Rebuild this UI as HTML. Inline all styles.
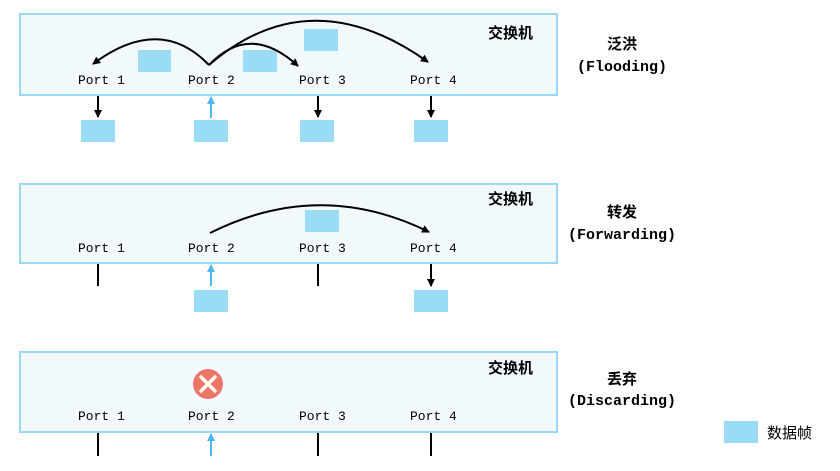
<!DOCTYPE html>
<html><head><meta charset="utf-8"><style>
body{margin:0;background:#fff;width:840px;height:466px;overflow:hidden;font-family:"Liberation Mono","Noto Sans CJK SC",monospace;}
</style></head><body>
<svg width="840" height="466" xmlns="http://www.w3.org/2000/svg">
<defs>
<marker id="a" markerWidth="8" markerHeight="8" refX="7" refY="4" orient="auto" markerUnits="userSpaceOnUse"><path d="M0,0 L8,4 L0,8 z" fill="#000"/></marker>
<marker id="b" markerWidth="8" markerHeight="8" refX="7" refY="4" orient="auto" markerUnits="userSpaceOnUse"><path d="M0,0 L8,4 L0,8 z" fill="#4db8f0"/></marker>
</defs>
<g fill="#f2f9fd" stroke="#9ad8f3" stroke-width="2">
<rect x="20" y="14" width="537" height="81"/>
<rect x="20" y="184" width="537" height="79"/>
<rect x="20" y="352" width="537" height="80"/>
</g>
<g font-family="'Liberation Sans','Noto Sans CJK SC',sans-serif" font-weight="bold" font-size="15" fill="#000">
<text x="488" y="38">交换机</text>
<text x="488" y="204">交换机</text>
<text x="488" y="373">交换机</text>
</g>
<g font-size="13" fill="#000" font-family="'Liberation Mono',monospace">
<text x="78" y="84">Port 1</text><text x="188" y="84">Port 2</text><text x="299" y="84">Port 3</text><text x="410" y="84">Port 4</text>
<text x="78" y="252">Port 1</text><text x="188" y="252">Port 2</text><text x="299" y="252">Port 3</text><text x="410" y="252">Port 4</text>
<text x="78" y="420">Port 1</text><text x="188" y="420">Port 2</text><text x="299" y="420">Port 3</text><text x="410" y="420">Port 4</text>
</g>
<g fill="#9adcf5">
<rect x="138" y="50" width="33" height="22"/><rect x="243" y="50" width="34" height="22"/><rect x="304" y="29" width="34" height="22"/>
<rect x="81" y="120" width="34" height="22"/><rect x="194" y="120" width="34" height="22"/><rect x="300" y="120" width="34" height="22"/><rect x="414" y="120" width="34" height="22"/>
<rect x="305" y="210" width="34" height="22"/>
<rect x="194" y="290" width="34" height="22"/><rect x="414" y="290" width="34" height="22"/>
<rect x="724" y="421" width="34" height="22"/>
</g>
<g fill="none" stroke="#000" stroke-width="2">
<path d="M209,65 Q160,14 93,64" marker-end="url(#a)"/>
<path d="M209,65 Q250,22 298,66" marker-end="url(#a)"/>
<path d="M209,65 Q310,-22 428,62" marker-end="url(#a)"/>
<path d="M210,233 Q320,178 429,232" marker-end="url(#a)"/>
<line x1="98" y1="96" x2="98" y2="117" marker-end="url(#a)"/>
<line x1="318" y1="96" x2="318" y2="117" marker-end="url(#a)"/>
<line x1="431" y1="96" x2="431" y2="117" marker-end="url(#a)"/>
<line x1="431" y1="264" x2="431" y2="286" marker-end="url(#a)"/>
<line x1="98" y1="264" x2="98" y2="286"/>
<line x1="318" y1="264" x2="318" y2="286"/>
<line x1="98" y1="433" x2="98" y2="456"/>
<line x1="318" y1="433" x2="318" y2="456"/>
<line x1="431" y1="433" x2="431" y2="456"/>
</g>
<g stroke="#4db8f0" stroke-width="2">
<line x1="211" y1="118" x2="211" y2="97" marker-end="url(#b)"/>
<line x1="211" y1="286" x2="211" y2="265" marker-end="url(#b)"/>
<line x1="211" y1="456" x2="211" y2="434" marker-end="url(#b)"/>
</g>
<circle cx="208" cy="384" r="15" fill="#ee7565"/>
<g stroke="#fff" stroke-width="3.5" stroke-linecap="round"><line x1="201" y1="377" x2="215" y2="391"/><line x1="215" y1="377" x2="201" y2="391"/></g>
<g font-weight="bold" font-size="15" fill="#000" text-anchor="middle" font-family="'Liberation Mono','Noto Sans CJK SC',monospace">
<text x="622" y="49">泛洪</text><text x="622" y="71">(Flooding)</text>
<text x="622" y="217">转发</text><text x="622" y="239">(Forwarding)</text>
<text x="622" y="384">丢弃</text><text x="622" y="405">(Discarding)</text>
</g>
<text x="767" y="438" font-size="15" font-family="'Liberation Sans','Noto Sans CJK SC',sans-serif">数据帧</text>
</svg>
</body></html>
